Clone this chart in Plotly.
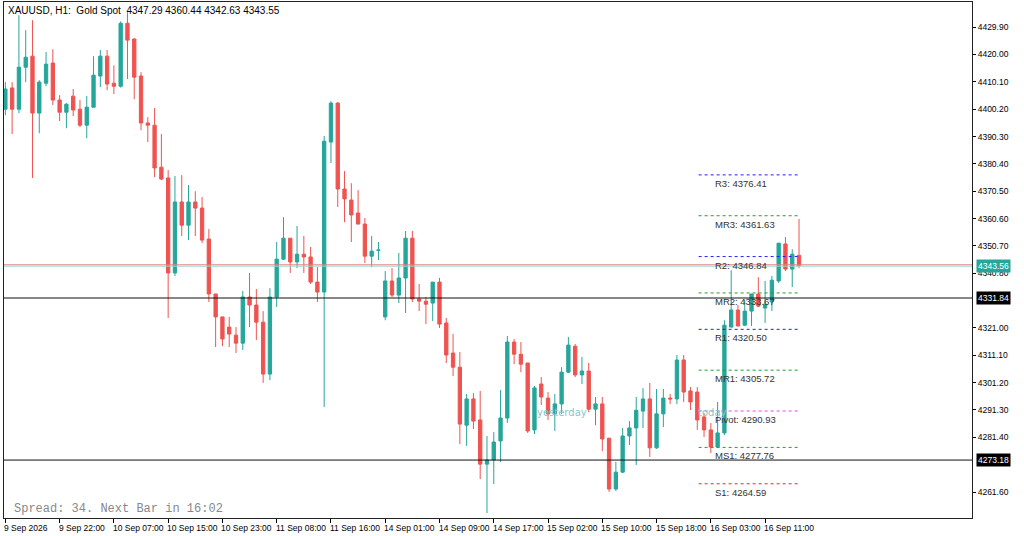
import plotly.graph_objects as go

# H1 bars
opens = [4400.2, 4407.9, 4400.2, 4415.4, 4419.4, 4398.8, 4409.6, 4416.9, 4403.5, 4399.1,
         4404.9, 4400.2, 4394.4, 4400.9, 4412.2, 4419.4, 4409.6, 4408.5, 4431.3, 4425.6,
         4412.2, 4395.2, 4394.4, 4379.2, 4375.3, 4340.9, 4366.6, 4358.2, 4366.6, 4364.4,
         4353.2, 4333.3, 4325.0, 4321.3, 4318.4, 4315.5, 4332.2, 4329.3, 4323.1, 4304.3,
         4332.2, 4345.9, 4353.5, 4344.9, 4347.7, 4346.7, 4337.6, 4334.0, 4388.3, 4402.4,
         4371.3, 4367.3, 4362.6, 4358.6, 4347.0, 4349.1, 4325.0, 4338.0, 4332.9, 4339.1,
         4353.5, 4331.5, 4330.7, 4330.0, 4337.6, 4322.8, 4311.9, 4306.8, 4285.8, 4295.3,
         4287.7, 4271.7, 4273.2, 4280.1, 4288.4, 4315.9, 4311.5, 4308.3, 4284.1, 4300.7,
         4295.6, 4289.9, 4293.5, 4305.0, 4314.4, 4304.0, 4305.4, 4291.6, 4293.5, 4281.1,
         4262.7, 4268.8, 4281.9, 4284.8, 4290.9, 4295.3, 4277.6, 4289.9, 4295.6, 4295.3,
         4309.4, 4298.2, 4297.8, 4288.8, 4284.1, 4277.9, 4283.0, 4321.3, 4327.5, 4322.0,
         4327.1, 4333.3, 4328.2, 4330.4, 4338.0, 4351.4, 4342.3, 4347.29]
highs = [4410.0, 4410.0, 4434.2, 4428.8, 4432.4, 4410.7, 4420.9, 4421.9, 4405.3, 4402.4,
         4407.5, 4403.5, 4405.0, 4419.4, 4421.6, 4421.6, 4416.1, 4432.0, 4435.3, 4425.9,
         4413.6, 4397.3, 4400.6, 4391.2, 4378.2, 4376.0, 4376.3, 4372.7, 4370.5, 4368.4,
         4356.8, 4333.3, 4325.0, 4325.0, 4321.3, 4334.4, 4340.9, 4335.1, 4327.1, 4335.4,
         4352.1, 4361.1, 4353.5, 4357.9, 4354.3, 4350.3, 4343.0, 4390.5, 4403.1, 4402.8,
         4377.8, 4373.4, 4370.9, 4360.8, 4354.3, 4352.1, 4341.6, 4342.7, 4348.1, 4356.1,
         4356.1, 4336.9, 4332.2, 4337.6, 4339.1, 4324.6, 4318.8, 4312.3, 4297.1, 4297.4,
         4298.2, 4281.9, 4283.3, 4298.5, 4318.1, 4317.0, 4315.9, 4308.3, 4300.0, 4303.2,
         4297.8, 4297.1, 4306.8, 4317.7, 4315.2, 4310.5, 4308.3, 4296.0, 4296.0, 4281.1,
         4272.5, 4284.8, 4287.3, 4296.0, 4299.2, 4301.1, 4298.9, 4298.9, 4297.1, 4311.2,
         4311.2, 4299.6, 4299.6, 4290.2, 4286.6, 4294.2, 4323.8, 4341.9, 4329.3, 4331.1,
         4333.3, 4339.4, 4338.0, 4339.8, 4351.7, 4353.9, 4349.5, 4360.44]
lows = [4398.0, 4391.2, 4398.8, 4410.0, 4375.3, 4391.5, 4408.5, 4401.7, 4395.9, 4393.3,
        4397.7, 4393.7, 4389.7, 4400.9, 4408.2, 4407.1, 4405.7, 4408.0, 4411.1, 4403.8,
        4392.6, 4388.3, 4375.6, 4374.5, 4324.6, 4339.8, 4354.3, 4352.8, 4354.3, 4351.7,
        4330.4, 4314.1, 4314.4, 4314.1, 4311.9, 4313.0, 4321.3, 4316.6, 4301.1, 4302.1,
        4328.6, 4345.6, 4340.9, 4342.7, 4340.9, 4336.9, 4330.4, 4292.4, 4380.7, 4364.8,
        4359.3, 4352.1, 4358.6, 4344.5, 4343.0, 4345.6, 4323.8, 4332.2, 4330.0, 4326.4,
        4330.4, 4327.1, 4322.4, 4323.5, 4321.0, 4308.3, 4303.6, 4279.0, 4278.3, 4284.4,
        4266.3, 4254.0, 4264.5, 4272.5, 4286.6, 4307.9, 4305.0, 4283.0, 4282.6, 4293.1,
        4287.7, 4283.7, 4289.9, 4304.7, 4303.2, 4300.7, 4290.5, 4285.8, 4276.4, 4261.6,
        4262.0, 4268.5, 4278.6, 4271.4, 4284.8, 4274.3, 4277.2, 4285.1, 4293.4, 4293.4,
        4294.2, 4291.3, 4284.1, 4281.5, 4275.7, 4277.5, 4282.2, 4321.3, 4321.7, 4321.7,
        4321.7, 4328.6, 4322.8, 4327.1, 4337.3, 4341.6, 4335.8, 4342.63]
closes = [4407.5, 4400.2, 4415.4, 4419.0, 4398.8, 4410.0, 4416.5, 4403.5, 4399.1, 4402.0,
          4399.9, 4394.4, 4400.9, 4412.5, 4419.4, 4409.3, 4408.5, 4431.3, 4425.2, 4411.8,
          4395.2, 4394.4, 4378.9, 4374.9, 4340.9, 4366.6, 4358.2, 4366.6, 4364.4, 4352.8,
          4333.3, 4325.0, 4317.0, 4318.8, 4315.5, 4332.2, 4329.3, 4323.1, 4304.3, 4332.2,
          4345.9, 4353.5, 4344.9, 4347.7, 4346.7, 4337.6, 4334.0, 4388.6, 4402.4, 4371.3,
          4367.7, 4361.9, 4358.6, 4347.0, 4348.8, 4349.2, 4338.0, 4332.9, 4339.1, 4353.5,
          4331.5, 4330.7, 4329.6, 4337.6, 4322.4, 4311.2, 4306.8, 4286.2, 4295.3, 4287.3,
          4271.7, 4273.2, 4279.7, 4288.4, 4315.9, 4311.5, 4307.9, 4283.7, 4299.3, 4296.0,
          4289.9, 4293.5, 4305.0, 4314.8, 4304.0, 4305.4, 4291.6, 4293.5, 4280.8, 4262.7,
          4268.8, 4281.9, 4284.8, 4291.2, 4295.3, 4277.6, 4289.9, 4295.6, 4295.3, 4309.4,
          4297.8, 4294.2, 4287.7, 4284.1, 4277.9, 4283.0, 4322.0, 4327.5, 4321.7, 4327.1,
          4333.3, 4328.9, 4329.6, 4338.3, 4351.7, 4342.3, 4347.7, 4343.55]

tick_bars = [0, 8, 16, 24, 32, 40, 48, 56, 64, 72, 80, 88, 96, 104, 112]
tick_labels = ["9 Sep 2026", "9 Sep 22:00", "10 Sep 07:00", "10 Sep 15:00", "10 Sep 23:00",
               "11 Sep 08:00", "11 Sep 16:00", "14 Sep 01:00", "14 Sep 09:00", "14 Sep 17:00",
               "15 Sep 02:00", "15 Sep 10:00", "15 Sep 18:00", "16 Sep 03:00", "16 Sep 11:00"]
price_ticks = [4429.90, 4420.00, 4410.10, 4400.20, 4390.30, 4380.40, 4370.50, 4360.60,
               4350.70, 4340.80, 4321.00, 4311.10, 4301.20, 4291.30, 4281.40, 4261.60]

# daily pivot levels
pivot_names = ["R3", "MR3", "R2", "MR2", "R1", "MR1", "Pivot", "MS1", "S1"]
pivot_values = [4376.41, 4361.63, 4346.84, 4333.67, 4320.50, 4305.72, 4290.93, 4277.76, 4264.59]
pivot_colors = ["#1f1fff", "#22a022", "#1f1fff", "#22a022", "#1f1fff", "#22a022", "#ee44ee", "#22a022", "#ff2020"]

bid = 4343.56
hlines = [4331.84, 4273.18]

UP = "#26a69a"
DN = "#ef5350"
AXFONT = dict(family="Liberation Sans, Arial", size=8.5, color="black")

fig = go.Figure()
fig.add_trace(go.Candlestick(
    x=list(range(len(opens))), open=opens, high=highs, low=lows, close=closes,
    increasing=dict(line=dict(color=UP, width=1), fillcolor=UP),
    decreasing=dict(line=dict(color=DN, width=1), fillcolor=DN),
    whiskerwidth=0, showlegend=False, hoverinfo="skip",
))

# pivot segments span the current day
for name, val, col in zip(pivot_names, pivot_values, pivot_colors):
    fig.add_shape(type="line", x0=102.2, x1=117, y0=val, y1=val,
                  line=dict(color=col, width=1, dash="3px,3px"))
    fig.add_annotation(x=104.3, y=val, text=f"{name}: {val:.2f}", showarrow=False,
                       xanchor="left", yanchor="top", yshift=-1,
                       font=dict(family="Liberation Sans, Arial", size=9.5, color="#333333"))

fig.add_hline(y=bid + 0.3, line=dict(color="#e08080", width=1))
fig.add_hline(y=bid - 0.2, line=dict(color="#9fd6cf", width=1))
for h in hlines:
    fig.add_hline(y=h, line=dict(color="#111111", width=1))

fig.add_annotation(x=82, y=4290.5, text="yesterday", showarrow=False,
                   font=dict(family="DejaVu Sans", size=10, color="#8cc4cc"))
fig.add_annotation(x=104.3, y=4290.5, text="today", showarrow=False,
                   font=dict(family="DejaVu Sans", size=10, color="#8cc4cc"))

# time labels start at their tick, MT5 style
for b, lab in zip(tick_bars, tick_labels):
    fig.add_annotation(x=b, yref="paper", y=0, yshift=-3, text=lab, showarrow=False,
                       xanchor="left", yanchor="top", xshift=-3, font=AXFONT)

# price markers on the right axis
for val, bg in [(bid, UP), (hlines[0], "#000000"), (hlines[1], "#000000")]:
    fig.add_annotation(xref="paper", x=1.0, y=val, text=f"{val:.2f}", showarrow=False,
                       xanchor="left", xshift=4, bgcolor=bg, borderpad=1,
                       font=dict(family="Liberation Sans, Arial", size=8.5, color="white"))

fig.add_annotation(xref="paper", yref="paper", x=0.002, y=0.998, xanchor="left", yanchor="top",
                   text="XAUUSD, H1:  Gold Spot  4347.29 4360.44 4342.63 4343.55", showarrow=False,
                   font=dict(family="Liberation Sans, Arial", size=10, color="black"))
fig.add_annotation(xref="paper", yref="paper", x=0.008, y=0.0, xanchor="left", yanchor="bottom",
                   text="Spread: 34. Next Bar in 16:02", showarrow=False,
                   font=dict(family="Liberation Mono", size=12, color="#888888"))

fig.update_layout(
    width=1024, height=536, autosize=False,
    margin=dict(l=4, r=52, t=2, b=18, autoexpand=False),
    paper_bgcolor="white", plot_bgcolor="white",
    xaxis=dict(range=[-0.2, 142.5], tickvals=tick_bars, showticklabels=False,
               showgrid=False, zeroline=False, rangeslider=dict(visible=False),
               ticks="outside", ticklen=4, tickcolor="black", automargin=False,
               showline=True, linecolor="#222222", mirror=True),
    yaxis=dict(range=[4252.2, 4439.0], side="right", tickvals=price_ticks,
               ticktext=[f"{p:.2f}" for p in price_ticks], automargin=False,
               showgrid=False, zeroline=False, ticks="outside", ticklen=3, tickcolor="black",
               showline=True, linecolor="#222222", mirror=True, tickfont=AXFONT),
)

fig.write_html("out.html", config={"displayModeBar": False},
               post_script="document.body.style.margin='0';")
